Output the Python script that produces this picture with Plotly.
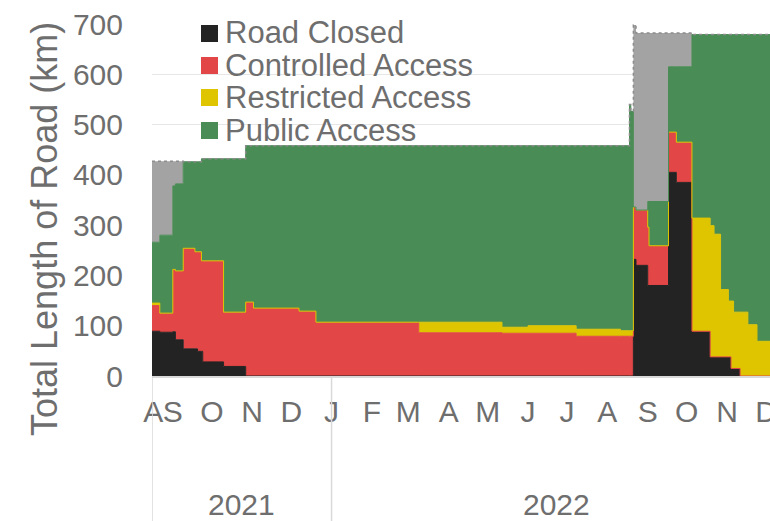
import plotly.graph_objects as go

# ---- data ----
dates = ["2021-08-16", "2021-08-22", "2021-09-01", "2021-09-03", "2021-09-09", "2021-09-18",
         "2021-09-20", "2021-09-23", "2021-09-24", "2021-10-10", "2021-10-27", "2021-11-02",
         "2021-12-07", "2021-12-20", "2022-03-09", "2022-05-12", "2022-06-01", "2022-07-08",
         "2022-08-11", "2022-08-18", "2022-08-19", "2022-08-21", "2022-08-23", "2022-09-01",
         "2022-09-02", "2022-09-17", "2022-09-23", "2022-10-05", "2022-10-19", "2022-10-22",
         "2022-10-27", "2022-11-02", "2022-11-04", "2022-11-06", "2022-11-11", "2022-11-17",
         "2022-11-24", "2022-12-05"]

road_closed = [89, 87, 88, 72, 54, 54, 49, 49, 28, 19, 0, 0, 0, 0, 0, 0, 0, 0,
               0, 0, 0, 232, 220, 180, 180, 405, 385, 89, 38, 38, 38, 38, 15, 15, 0, 0, 0, 0]
controlled_access = [51, 38, 124, 137, 200, 193, 198, 180, 201, 108, 147, 135, 129, 107, 86, 85, 85, 79,
                     79, 79, 79, 104, 110, 116, 79, 80, 80, 0, 0, 0, 0, 0, 0, 0, 0, 0, 0, 0]
restricted_access = [5, 0, 0, 0, 0, 0, 0, 0, 0, 0, 0, 0, 0, 0, 21, 12, 15, 14,
                     11, 11, 11, 0, 0, 0, 0, 0, 0, 225, 261, 244, 134, 111, 134, 112, 127, 102, 69, 69]
public_access = [121, 155, 166, 173, 172, 179, 179, 203, 203, 305, 311, 323, 329, 351, 351, 361, 358, 365,
                 368, 450, 436, 0, 0, 51, 88, 130, 150, 365, 380, 397, 507, 530, 530, 552, 552, 577, 610, 610]
unknown = [161, 147, 49, 45, 0, 0, 0, 0, 0, 0, 0, 0, 0, 0, 0, 0, 0, 0,
           0, 0, 0, 362, 352, 335, 335, 67, 67, 0, 0, 0, 0, 0, 0, 0, 0, 0, 0, 0]

series_names = ["Road Closed", "Controlled Access", "Restricted Access", "Public Access"]
series_colors = ["#232323", "#e24646", "#dec500", "#4a8c55"]

month_ticks = ["2021-08-17", "2021-09-01", "2021-10-01", "2021-11-01", "2021-12-01", "2022-01-01",
               "2022-02-01", "2022-03-01", "2022-04-01", "2022-05-01", "2022-06-01", "2022-07-01",
               "2022-08-01", "2022-09-01", "2022-10-01", "2022-11-01", "2022-12-01"]
month_labels = ["A", "S", "O", "N", "D", "J", "F", "M", "A", "M", "J", "J", "A", "S", "O", "N", "D"]

year_labels = ["2021", "2022"]
year_label_pos = ["2021-10-24", "2022-06-23"]
year_starts = ["2021-08-16", "2022-01-01"]

x_range = ["2021-08-16", "2022-12-04"]

TEXT = "#6e6e6e"
FONT = "Liberation Sans, Arial, sans-serif"
PL, PT, PW, PH = 152, 24, 618, 352   # plot area in pixels


def px_x(x):
    return (x - PL) / PW


def px_y(y):
    return (PT + PH - y) / PH


fig = go.Figure()
for name, vals, col in zip(series_names,
                           [road_closed, controlled_access, restricted_access, public_access],
                           series_colors):
    fig.add_trace(go.Scatter(x=dates, y=vals, name=name, mode="lines",
                             stackgroup="one", line=dict(shape="hv", color=col, width=1),
                             fillcolor=col, showlegend=False))
fig.add_trace(go.Scatter(x=dates, y=unknown, name="Unknown", mode="lines",
                         stackgroup="one",
                         line=dict(shape="hv", color="#8c8c8c", width=1.5, dash="dot"),
                         fillcolor="#a3a3a3", showlegend=False))

annotations = []
shapes = []
# legend (drawn as swatches + text entries)
row_y = [33, 65, 97, 130]
for name, col, py in zip(series_names, series_colors, row_y):
    shapes.append(dict(type="rect", xref="paper", yref="paper",
                       x0=px_x(201), x1=px_x(218), y0=px_y(py + 9), y1=px_y(py - 8),
                       fillcolor=col, line=dict(width=0)))
    annotations.append(dict(
        xref="paper", yref="paper", x=px_x(223), y=px_y(py),
        xanchor="left", yanchor="middle", showarrow=False, text=name,
        font=dict(size=31, color=TEXT, family=FONT)))
# y-axis title
annotations.append(dict(xref="paper", yref="paper", x=px_x(44), y=px_y(229),
                        xanchor="center", yanchor="middle", showarrow=False, textangle=-90,
                        text="Total Length of Road (km)",
                        font=dict(size=36, color=TEXT, family=FONT)))
# year labels
for lbl, pos in zip(year_labels, year_label_pos):
    annotations.append(dict(xref="x", yref="paper", x=pos, y=px_y(504),
                            xanchor="center", yanchor="middle", showarrow=False, text=lbl,
                            font=dict(size=30, color=TEXT, family=FONT)))

for ys in year_starts:
    shapes.append(dict(type="line", xref="x", yref="paper", x0=ys, x1=ys,
                       y0=-0.005, y1=-0.42, line=dict(color="#d9d9d9", width=1.5)))

fig.update_layout(
    width=770, height=521,
    margin=dict(l=PL, r=770 - PL - PW, t=PT, b=521 - PT - PH, autoexpand=False),
    paper_bgcolor="white", plot_bgcolor="white",
    font=dict(family=FONT, color=TEXT, size=30),
    showlegend=False,
    annotations=annotations,
    shapes=shapes,
    xaxis=dict(type="date", range=x_range, tickmode="array", tickvals=month_ticks,
               ticktext=month_labels, ticks="", tickangle=0, automargin=False,
               ticklabeloverflow="allow",
               showgrid=False, zeroline=False,
               showline=True, linecolor="#d9d9d9", linewidth=1.5,
               tickfont=dict(size=30, color=TEXT, family=FONT), ticklabelstandoff=8),
    yaxis=dict(range=[0, 700], dtick=100, tick0=0, showgrid=True, gridcolor="#e6e6e6",
               gridwidth=1, zeroline=False, showline=False, ticks="", automargin=False,
               tickfont=dict(size=30, color=TEXT, family=FONT), ticklabelstandoff=28),
)

fig.write_html("out.html", config={"displayModeBar": False},
               post_script="document.body.style.margin='0px';document.body.style.overflow='hidden';")
